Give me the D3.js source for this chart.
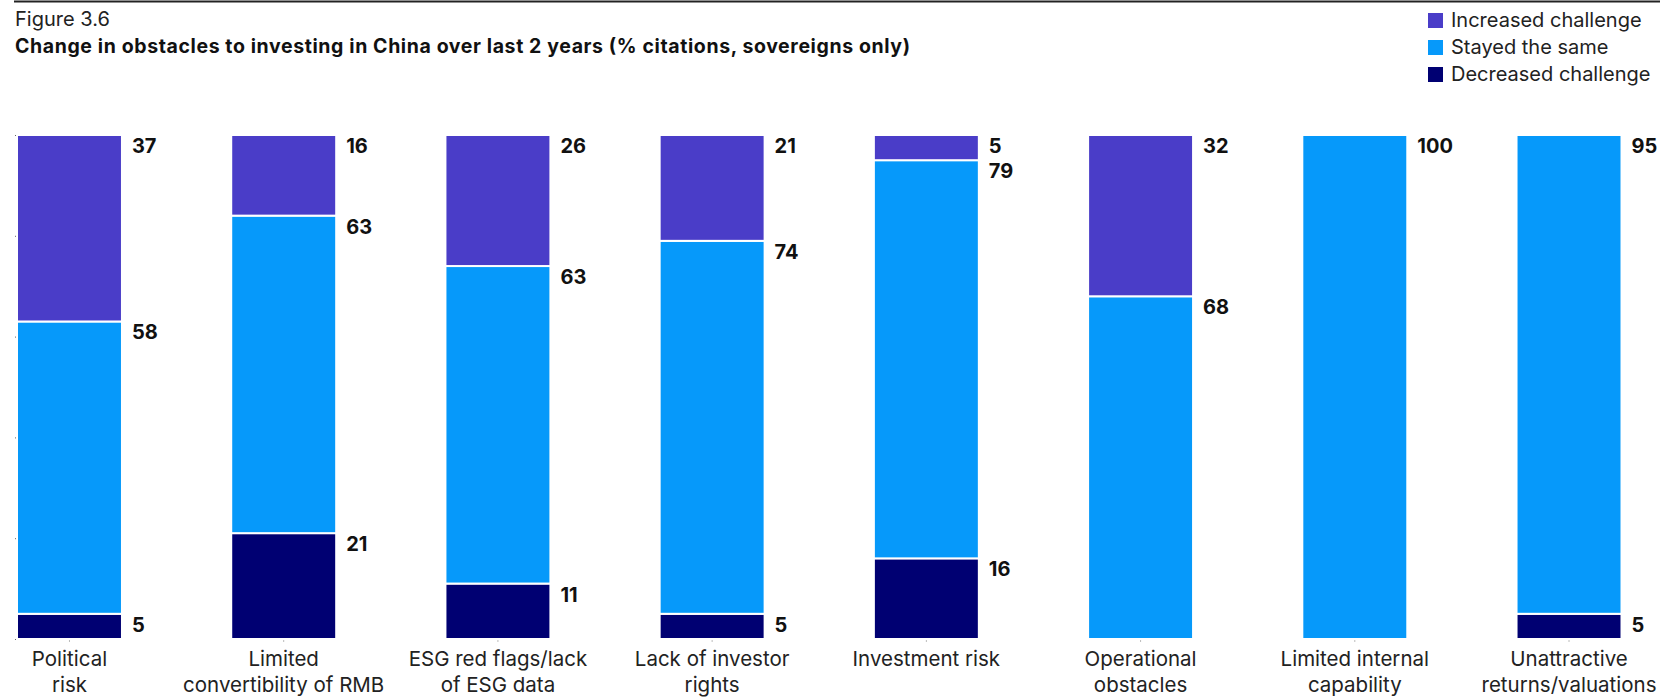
<!DOCTYPE html>
<html><head><meta charset="utf-8">
<script src="https://cdn.jsdelivr.net/npm/d3@7"></script>
<style>
html,body{margin:0;padding:0;background:#fff;}
text{font-family:Inter,"Liberation Sans",Arial,sans-serif;}
</style></head>
<body>
<svg id="chart" width="1676" height="699"></svg>
<script>
const categories = [
  ["Political", "risk"],
  ["Limited", "convertibility of RMB"],
  ["ESG red flags/lack", "of ESG data"],
  ["Lack of investor", "rights"],
  ["Investment risk"],
  ["Operational", "obstacles"],
  ["Limited internal", "capability"],
  ["Unattractive", "returns/valuations"]
];
const seriesNames = ["Decreased challenge", "Stayed the same", "Increased challenge"];
const decreased = [5, 21, 11, 5, 16, 0, 0, 5];
const stayed    = [58, 63, 63, 74, 79, 68, 100, 95];
const increased = [37, 16, 26, 21, 5, 32, 0, 0];
const colors = ["#000072", "#0699fa", "#4a3dc8"];
const yTicks = [0, 20, 40, 60, 80, 100];
const legendOrder = ["Increased challenge", "Stayed the same", "Decreased challenge"];

const svg = d3.select("#chart");

// top rule
svg.append("line").attr("x1", 14).attr("x2", 1660).attr("y1", 1.5).attr("y2", 1.5)
  .attr("stroke", "#222").attr("stroke-width", 2);

svg.append("text").attr("x", 15).attr("y", 26).attr("font-size", 20).attr("fill", "#222")
  .text("Figure 3.6");
svg.append("text").attr("x", 15).attr("y", 53).attr("font-size", 19.5).attr("font-weight", 700).attr("fill", "#111")
  .attr("textLength", 895).attr("lengthAdjust", "spacing")
  .text("Change in obstacles to investing in China over last 2 years (% citations, sovereigns only)");

// legend
const lg = svg.append("g");
legendOrder.forEach((name, i) => {
  const c = colors[seriesNames.indexOf(name)];
  const g = lg.append("g").attr("transform", `translate(1428, ${13 + i * 27})`);
  g.append("rect").attr("width", 15).attr("height", 15).attr("fill", c);
  g.append("text").attr("x", 23).attr("y", 14).attr("font-size", 20).attr("fill", "#222").text(name);
});

// scales
const x = d3.scaleBand().domain(d3.range(categories.length)).range([17, 1621 + 0.5]).paddingInner(0.51).paddingOuter(0);
const y = d3.scaleLinear().domain([0, 100]).range([639, 135]);

const rows = categories.map((c, i) => ({i, "Decreased challenge": decreased[i], "Stayed the same": stayed[i], "Increased challenge": increased[i]}));
const stack = d3.stack().keys(seriesNames)(rows);

// y ticks (tiny marks)
const yAxis = svg.append("g").attr("transform", "translate(17,0)")
  .call(d3.axisLeft(y).tickValues(yTicks).tickSize(2).tickFormat(""));
yAxis.select(".domain").remove();
yAxis.selectAll("line").attr("stroke", "#666");

// x ticks
const xAxis = svg.append("g").attr("transform", "translate(0,639)")
  .call(d3.axisBottom(x).tickSize(3).tickFormat(""));
xAxis.select(".domain").remove();
xAxis.selectAll("line").attr("stroke", "#bbb");

stack.forEach((layer, k) => {
  const g = svg.append("g");
  layer.forEach((d, i) => {
    if (d[1] - d[0] <= 0) return;
    g.append("rect")
      .attr("x", x(i)).attr("width", x.bandwidth())
      .attr("y", y(d[1])).attr("height", y(d[0]) - y(d[1]))
      .attr("fill", colors[k]).attr("stroke", "#fff").attr("stroke-width", 2);
    g.append("text")
      .attr("x", x(i) + x.bandwidth() + 10).attr("y", y(d[1]) + 18)
      .attr("font-size", 20).attr("font-weight", 700).attr("fill", "#111")
      .text(d[1] - d[0]);
  });
});

// category labels
categories.forEach((lines, i) => {
  const t = svg.append("text").attr("text-anchor", "middle").attr("font-size", 20.5).attr("fill", "#222");
  lines.forEach((ln, j) => {
    t.append("tspan").attr("x", x(i) + x.bandwidth() / 2).attr("y", 666 + j * 26).text(ln);
  });
});
</script>
</body></html>
